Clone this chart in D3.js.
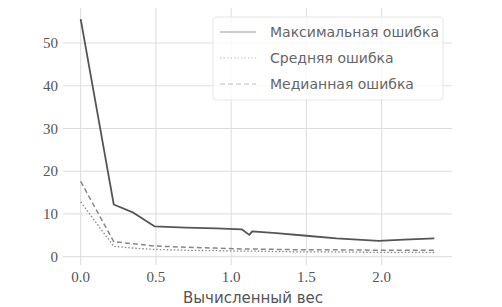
<!DOCTYPE html>
<html>
<head>
<meta charset="utf-8">
<script src="https://cdn.jsdelivr.net/npm/d3@7"></script>
<style>
  body { margin: 0; background: #fff; }
</style>
</head>
<body>
<div id="chart"></div>
<script>
// weights on the x axis
const weights   = [0.0, 0.22, 0.35, 0.49, 0.7, 0.9, 1.07, 1.12, 1.14, 1.3, 1.5, 1.7, 1.98, 2.15, 2.35];
const maxErr    = [55.6, 12.2, 10.3, 7.1, 6.8, 6.6, 6.4, 5.1, 5.9, 5.5, 4.9, 4.3, 3.7, 4.0, 4.3];
const meanErr   = [12.8, 2.4, 2.0, 1.7, 1.5, 1.4, 1.3, 1.3, 1.3, 1.2, 1.1, 1.1, 1.0, 1.0, 1.0];
const medianErr = [17.6, 3.5, 3.0, 2.5, 2.2, 2.0, 1.8, 1.8, 1.8, 1.7, 1.6, 1.6, 1.5, 1.5, 1.5];
const xTicks = [0, 0.5, 1.0, 1.5, 2.0];
const yTicks = [0, 10, 20, 30, 40, 50];

const width = 502, height = 307;
const margin = { left: 63, right: 50, top: 8, bottom: 42 };
const serifFont = '"Liberation Serif", "DejaVu Serif", serif';

const svg = d3.select('#chart').append('svg')
    .attr('width', width)
    .attr('height', height);

const x = d3.scaleLinear()
    .domain([-0.1175, 2.4675])
    .range([margin.left, width - margin.right]);
const y = d3.scaleLinear()
    .domain([-1.95, 58.2])
    .range([height - margin.bottom, margin.top]);

// grid
svg.append('g').selectAll('line.vx')
    .data(xTicks).enter().append('line')
    .attr('x1', d => x(d)).attr('x2', d => x(d))
    .attr('y1', margin.top).attr('y2', height - margin.bottom)
    .attr('stroke', '#dcdcdc').attr('stroke-width', 1);
svg.append('g').selectAll('line.hy')
    .data(yTicks).enter().append('line')
    .attr('x1', margin.left).attr('x2', width - margin.right)
    .attr('y1', d => y(d)).attr('y2', d => y(d))
    .attr('stroke', '#dcdcdc').attr('stroke-width', 1);

// tick labels
svg.append('g').selectAll('text')
    .data(xTicks).enter().append('text')
    .attr('x', d => x(d))
    .attr('y', 282)
    .attr('text-anchor', 'middle')
    .attr('font-family', serifFont)
    .attr('font-size', 15)
    .attr('fill', '#555')
    .text(d3.format('.1f'));

svg.append('g').selectAll('text')
    .data(yTicks).enter().append('text')
    .attr('x', margin.left - 5)
    .attr('y', d => y(d))
    .attr('dy', '0.35em')
    .attr('text-anchor', 'end')
    .attr('font-family', serifFont)
    .attr('font-size', 15)
    .attr('fill', '#555')
    .text(d => d);

svg.append('text')
    .attr('x', 253).attr('y', 303)
    .attr('text-anchor', 'middle')
    .style('font-family', 'DejaVu Sans, sans-serif')
    .style('font-size', '15px')
    .attr('fill', '#555')
    .text('Вычисленный вес');

const series = [
    { name: 'Максимальная ошибка', values: maxErr, color: '#555', width: 1.8, dash: null, legendColor: '#999' },
    { name: 'Средняя ошибка', values: meanErr, color: '#888', width: 1.3, dash: '1.5,2', legendColor: '#bbb' },
    { name: 'Медианная ошибка', values: medianErr, color: '#888', width: 1.5, dash: '5,3', legendColor: '#bbb' }
];

const line = d3.line()
    .x(d => x(d[0]))
    .y(d => y(d[1]));

series.forEach(s => {
    svg.append('path')
        .datum(weights.map((w, i) => [w, s.values[i]]))
        .attr('d', line)
        .attr('fill', 'none')
        .attr('stroke', s.color)
        .attr('stroke-width', s.width)
        .attr('stroke-dasharray', s.dash)
        .attr('stroke-linejoin', 'round');
});

// legend
const legend = svg.append('g').attr('transform', 'translate(213,17)');
legend.append('rect')
    .attr('width', 230).attr('height', 83)
    .attr('rx', 3)
    .attr('fill', 'rgba(255,255,255,0.8)')
    .attr('stroke', '#e6e6e6');
series.forEach((s, i) => {
    const g = legend.append('g').attr('transform', `translate(0,${15 + i * 26})`);
    g.append('line')
        .attr('x1', 7).attr('x2', 43)
        .attr('stroke', s.legendColor)
        .attr('stroke-width', 1)
        .attr('stroke-dasharray', s.dash);
    g.append('text')
        .attr('x', 57).attr('y', 0)
        .attr('dy', '0.35em')
        .style('font-family', 'DejaVu Sans, sans-serif')
        .style('font-size', '14px')
        .attr('fill', '#666')
        .text(s.name);
});
</script>
</body>
</html>
